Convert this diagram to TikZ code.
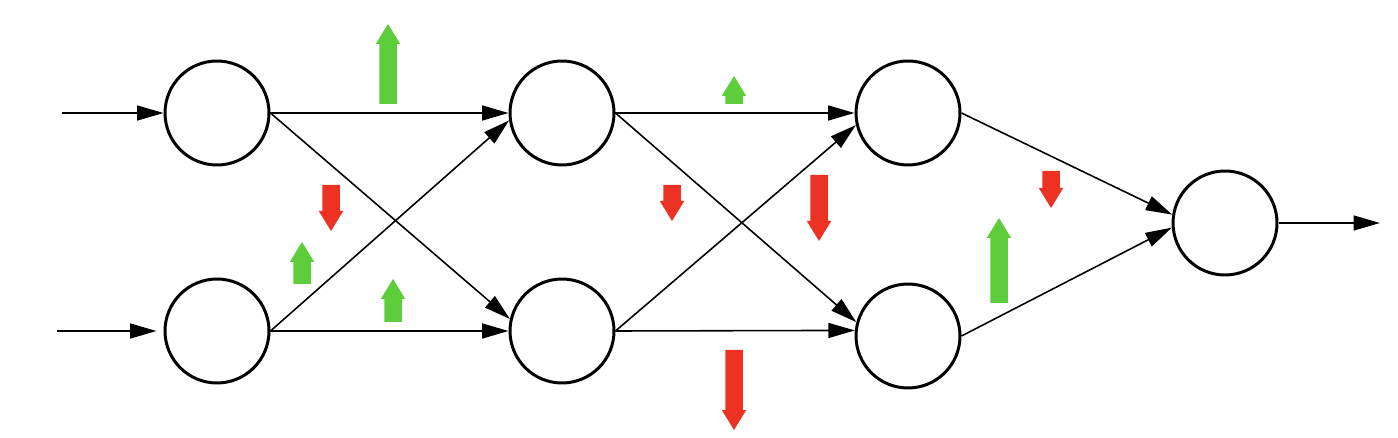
\documentclass[tikz,border=0pt]{standalone}
\usetikzlibrary{arrows.meta}

\definecolor{upgreen}{RGB}{94,205,60}
\definecolor{downred}{RGB}{237,50,36}

\tikzset{
  neuron/.style={circle, draw, line width=1.7pt, minimum size=2.08cm, inner sep=0pt},
  link/.style={-{Triangle[length=15pt,width=8.5pt]}, line width=0.9pt},
  upblock/.style={fill=upgreen, draw=none},
  downblock/.style={fill=downred, draw=none},
}

\begin{document}
\begin{tikzpicture}[x=0.02cm, y=-0.02cm]
  \useasboundingbox (0,0) rectangle (1398,438);

  % neurons
  \node[neuron] (in1) at (217,113) {};
  \node[neuron] (in2) at (217,331) {};
  \node[neuron] (hid1) at (562,113) {};
  \node[neuron] (hid2) at (562,331) {};
  \node[neuron] (hid3) at (908,113) {};
  \node[neuron] (hid4) at (908,336) {};
  \node[neuron] (out) at (1225,223) {};

  % free ends
  \coordinate (x1) at (62,113);
  \coordinate (x2) at (57,331);
  \coordinate (y) at (1380,223);

  % connections
  \draw[link] (x1) -- (in1.west);
  \draw[link] (x2) -- ([xshift=-4]in2.west);
  \draw[link] (in1.east) -- (hid1.west);
  \draw[link] (in1.east) -- (hid2.167);
  \draw[link] (in2.east) -- (hid1.188);
  \draw[link] (in2.east) -- (hid2.west);
  \draw[link] (hid1.east) -- (hid3.west);
  \draw[link] (hid1.east) -- (hid4.165);
  \draw[link] (hid2.east) -- (hid3.193);
  \draw[link] (hid2.east) -- (hid4.174);
  \draw[link] (hid3.east) -- (out.171);
  \draw[link] (hid4.east) -- (out.185);
  \draw[link] (out.east) -- (y);

  % weight changes: up (x/tip/bottom)
  \foreach \x/\t/\b in {388/24/104, 302/242/284, 393/279/322, 734/76/104, 999/218/303}
    \fill[upblock] ({\x-8.75},\b) -- ({\x-8.75},{\t+20}) -- ({\x-12.25},{\t+20})
      -- (\x,\t) -- ({\x+12.25},{\t+20}) -- ({\x+8.75},{\t+20}) -- ({\x+8.75},\b) -- cycle;

  % weight changes: down (x/top/tip)
  \foreach \x/\s/\t in {331/185/231, 672/185/221, 819/175/241, 734/350/430, 1051/171/208}
    \fill[downblock] ({\x-8.75},\s) -- ({\x-8.75},{\t-20}) -- ({\x-12.25},{\t-20})
      -- (\x,\t) -- ({\x+12.25},{\t-20}) -- ({\x+8.75},{\t-20}) -- ({\x+8.75},\s) -- cycle;
\end{tikzpicture}
\end{document}
